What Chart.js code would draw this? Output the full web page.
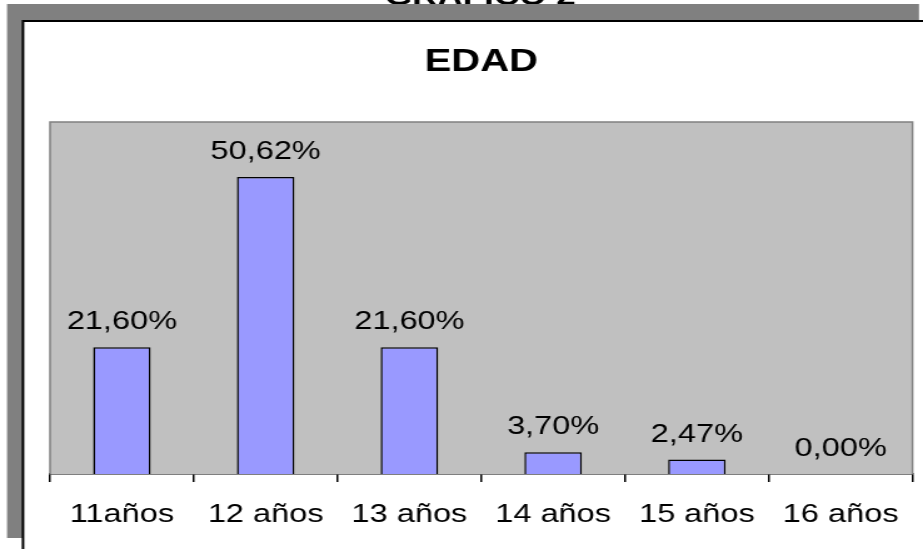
<!DOCTYPE html>
<html>
<head>
<meta charset="utf-8">
<script src="https://cdn.jsdelivr.net/npm/chart.js@4/dist/chart.umd.min.js"></script>
<style>
  html, body { margin: 0; padding: 0; background: #fff; overflow: hidden; }
  #wrap { width: 923px; height: 549px; position: relative; }
  /* the original picture is stretched sideways, so the canvas is too */
  #chart { position: absolute; left: 0; top: 0; transform-origin: 0 0; transform: scaleX(1.2507); }
</style>
</head>
<body>
<div id="wrap"><canvas id="chart" width="738" height="549"></canvas></div>
<script>
const categories = ['11años', '12 años', '13 años', '14 años', '15 años', '16 años'];
const porcentajes = [21.60, 50.62, 21.60, 3.70, 2.47, 0.00];
const tituloGrafico = 'GRÁFICO 2';
const tituloEje = 'EDAD';

const fuente = '"Liberation Sans", Arial, sans-serif';

// gray shadow frame + white box behind the chart
const marco = {
    id: 'marco',
    beforeDraw(chart) {
        const ctx = chart.ctx;
        ctx.save();
        ctx.fillStyle = '#000';
        ctx.font = 'bold 28px ' + fuente;
        ctx.textAlign = 'center';
        ctx.textBaseline = 'alphabetic';
        ctx.fillText(tituloGrafico, 384, 5);
        ctx.fillStyle = '#808080';
        ctx.fillRect(5.6, 4, 729.2, 534);
        ctx.fillStyle = '#fff';
        ctx.fillRect(18.4, 21, 740, 540);
        ctx.strokeStyle = '#000';
        ctx.lineWidth = 2;
        ctx.beginPath();
        ctx.moveTo(18.4, 560);
        ctx.lineTo(18.4, 21);
        ctx.lineTo(760, 21);
        ctx.stroke();
        ctx.restore();
    }
};

// gray plot area
const fondoGrafico = {
    id: 'fondoGrafico',
    beforeDatasetsDraw(chart) {
        const { ctx, chartArea: a } = chart;
        ctx.save();
        ctx.fillStyle = '#C0C0C0';
        ctx.fillRect(a.left, a.top, a.right - a.left, a.bottom - a.top);
        ctx.strokeStyle = '#808080';
        ctx.lineWidth = 1.5;
        ctx.beginPath();
        ctx.moveTo(a.left, a.bottom);
        ctx.lineTo(a.left, a.top);
        ctx.lineTo(a.right, a.top);
        ctx.lineTo(a.right, a.bottom);
        ctx.stroke();
        ctx.restore();
    }
};

// value labels above each bar
const etiquetas = {
    id: 'etiquetas',
    afterDatasetsDraw(chart) {
        const ctx = chart.ctx;
        const meta = chart.getDatasetMeta(0);
        ctx.save();
        ctx.fillStyle = '#000';
        ctx.font = '26px ' + fuente;
        ctx.textAlign = 'center';
        ctx.textBaseline = 'middle';
        meta.data.forEach((bar, i) => {
            const txt = porcentajes[i].toFixed(2).replace('.', ',') + '%';
            ctx.fillText(txt, bar.x, bar.y - 25);
        });
        ctx.restore();
    }
};

new Chart(document.getElementById('chart'), {
    type: 'bar',
    data: {
        labels: categories,
        datasets: [{
            data: porcentajes,
            backgroundColor: '#9999FF',
            borderColor: '#000',
            borderWidth: 1.5,
            barPercentage: 0.4,
            categoryPercentage: 1
        }]
    },
    options: {
        responsive: false,
        animation: false,
        layout: { padding: { left: 40, right: 8.4, top: 0, bottom: 0 } },
        plugins: {
            legend: { display: false },
            tooltip: { enabled: false },
            title: {
                display: true,
                text: tituloEje,
                color: '#000',
                font: { family: fuente, size: 32, weight: 'bold', lineHeight: 1.2 },
                padding: { top: 43, bottom: 40.6 }
            }
        },
        scales: {
            x: {
                grid: {
                    display: true,
                    drawOnChartArea: false,
                    drawTicks: true,
                    tickLength: 8,
                    color: '#000',
                    lineWidth: 1.5,
                    offset: true
                },
                border: { display: true, color: '#000', width: 1.5 },
                ticks: {
                    color: '#000',
                    padding: 17,
                    maxRotation: 0,
                    autoSkip: false,
                    font: { family: fuente, size: 26, lineHeight: 1.2 }
                },
                afterFit(scale) { scale.height = 75; }
            },
            y: {
                display: false,
                min: 0,
                max: 60
            }
        }
    },
    plugins: [marco, fondoGrafico, etiquetas]
});
</script>
</body>
</html>
